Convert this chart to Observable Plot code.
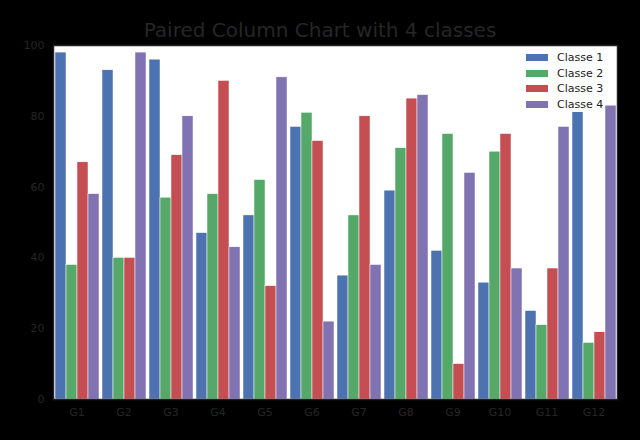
<!DOCTYPE html>
<html><head>
<script src="https://cdn.jsdelivr.net/npm/d3@7"></script>
<script src="https://cdn.jsdelivr.net/npm/@observablehq/plot@0.6"></script>
<style>
body{margin:0;background:#000;font-family:"DejaVu Sans",sans-serif;}
#wrap{position:relative;width:640px;height:440px;}
#title{position:absolute;top:18px;left:0;width:640px;text-align:center;font-size:20px;color:#262626;}
#legend{position:absolute;top:50px;left:526px;background:#fff;font-size:11px;color:#222;}
.li{display:flex;align-items:center;height:15.5px;}
.sw{width:22px;height:7px;margin-right:9px;}
</style></head><body>
<div id="wrap"><div id="chart"></div><div id="title">Paired Column Chart with 4 classes</div><div id="legend"></div></div>
<script>
const groups = ["G1","G2","G3","G4","G5","G6","G7","G8","G9","G10","G11","G12"];
const classes = ["Classe 1","Classe 2","Classe 3","Classe 4"];
const colors = ["#4C72B0","#55A868","#C44E52","#8172B2"];
const c1 = [98,93,96,47,52,77,35,59,42,33,25,85];
const c2 = [38,40,57,58,62,81,52,71,75,70,21,16];
const c3 = [67,40,69,90,32,73,80,85,10,75,37,19];
const c4 = [58,98,80,43,91,22,38,86,64,37,77,83];
const series=[c1,c2,c3,c4];
const data=[];
groups.forEach((g,i)=>series.forEach((s,j)=>data.push({g,c:classes[j],v:s[i]})));
const plot = Plot.plot({
  width:640,height:440,marginTop:45,marginLeft:50,marginRight:21,marginBottom:41,
  style:{background:"#000",color:"#262626",fontSize:"11px",fontFamily:"DejaVu Sans"},
  fx:{domain:groups,padding:0,label:null,tickSize:0},
  x:{domain:classes,padding:0,axis:null},
  y:{domain:[0,100],ticks:[0,20,40,60,80,100],label:null,tickSize:0},
  color:{domain:classes,range:colors},
  marks:[
    Plot.frame({fill:"#fff",facet:"super"}),
    Plot.barY(data,{fx:"g",x:"c",y:"v",fill:"c",stroke:"#fff",strokeWidth:0.5}),
    Plot.frame({stroke:"#222",strokeWidth:1.5,facet:"super"})
  ]
});
document.getElementById("chart").appendChild(plot);
const lg=document.getElementById("legend");
classes.forEach((c,i)=>{lg.innerHTML+=`<div class="li"><div class="sw" style="background:${colors[i]}"></div>${c}</div>`;});
</script></body></html>
